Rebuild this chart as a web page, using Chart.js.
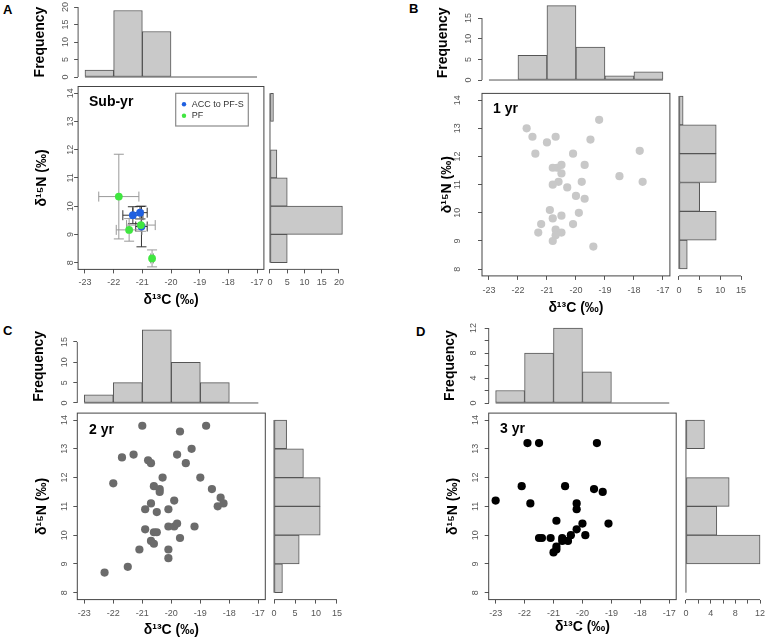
<!DOCTYPE html>
<html>
<head>
<meta charset="utf-8">
<script src="https://cdn.jsdelivr.net/npm/chart.js@4.4.1/dist/chart.umd.min.js"></script>
<style>
html, body { margin: 0; padding: 0; width: 768px; height: 644px; overflow: hidden; background: #fff; }
canvas { position: absolute; }
.lab { position: absolute; font: bold 13px "Liberation Sans", Arial, sans-serif; line-height: 1; color: #000; }
</style>
</head>
<body>
<div class="lab" style="left:3px;top:3px">A</div>
<div class="lab" style="left:409px;top:2px">B</div>
<div class="lab" style="left:3px;top:324px">C</div>
<div class="lab" style="left:416px;top:325px">D</div>
<script>
// bin edges and ticks
const cEdges = [-23, -22, -21, -20, -19, -18, -17];
const nEdges = [8, 9, 10, 11, 12, 13, 14];
const cTicks = [-23, -22, -21, -20, -19, -18, -17];
const nTicks = [8, 9, 10, 11, 12, 13, 14];
const ticks20 = [0, 5, 10, 15, 20];
const ticks15 = [0, 5, 10, 15];
const ticks12 = [0, 2, 4, 6, 8, 10, 12];
const labels12 = [0, 4, 8, 12];

// histogram counts (d13C bins -23..-17, d15N bins 8..14)
const subYrC = [2, 19, 13, 0, 0, 0];
const subYrN = [5, 21, 5, 2, 0, 1];
const yr1C = [0, 6, 18, 8, 1, 2];
const yr1N = [2, 9, 5, 9, 9, 1];
const yr2C = [2, 5, 18, 10, 5, 0];
const yr2N = [2, 6, 11, 11, 7, 3];
const yr3C = [2, 8, 12, 5, 0, 0];
const yr3N = [0, 12, 5, 7, 0, 3];

// sub-yr means: [d13C, d15N, sd13C, sd15N]
const accPts = [[-21.33, 9.68, 0.35, 0.3], [-21.08, 9.77, 0.25, 0.22], [-21.03, 9.28, 0.2, 0.72]];
const pfPts = [[-21.82, 10.34, 0.7, 1.5], [-21.05, 9.33, 0.5, 0.22], [-21.46, 9.16, 0.45, 0.4], [-20.66, 8.15, 0.05, 0.3]];

// individuals [d13C, d15N]
const yr1Pts = [[-21.7, 13.0], [-21.5, 12.7], [-20.7, 12.7], [-21.0, 12.5], [-21.4, 12.1], [-19.2, 13.3],
  [-19.5, 12.6], [-20.1, 12.1], [-17.8, 12.2], [-18.5, 11.3], [-17.7, 11.1], [-20.8, 11.6], [-20.65, 11.6],
  [-20.5, 11.7], [-20.5, 11.4], [-19.7, 11.7], [-20.6, 11.1], [-20.8, 11.0], [-20.3, 10.9], [-19.8, 11.1],
  [-20.0, 10.6], [-19.7, 10.5], [-20.9, 10.1], [-19.9, 10.0], [-20.5, 9.9], [-20.8, 9.8], [-21.2, 9.6],
  [-20.1, 9.6], [-21.3, 9.3], [-20.7, 9.4], [-20.7, 9.2], [-20.5, 9.3], [-20.8, 9.0], [-19.4, 8.8]];
const yr2Pts = [[-21.0, 13.8], [-18.8, 13.8], [-19.7, 13.6], [-19.3, 13.0], [-21.3, 12.8], [-19.8, 12.8],
  [-21.7, 12.7], [-20.8, 12.6], [-20.7, 12.5], [-19.5, 12.5], [-20.3, 12.0], [-19.0, 12.0], [-22.0, 11.8],
  [-20.6, 11.7], [-20.4, 11.6], [-20.4, 11.5], [-18.6, 11.6], [-18.3, 11.3], [-18.4, 11.0], [-18.2, 11.1],
  [-20.7, 11.1], [-19.9, 11.2], [-20.9, 10.9], [-20.1, 10.9], [-20.5, 10.8], [-20.9, 10.2], [-20.1, 10.3],
  [-19.9, 10.3], [-19.8, 10.4], [-19.2, 10.3], [-20.6, 10.1], [-20.5, 10.1], [-20.7, 9.8], [-20.6, 9.7],
  [-19.7, 9.9], [-21.1, 9.5], [-20.1, 9.5], [-20.1, 9.2], [-21.5, 8.9], [-22.3, 8.7]];
const yr3Pts = [[-23.0, 11.2], [-21.9, 13.2], [-21.5, 13.2], [-19.5, 13.2], [-22.1, 11.7], [-20.6, 11.7],
  [-21.8, 11.1], [-20.2, 11.1], [-20.2, 10.9], [-19.6, 11.6], [-19.3, 11.5], [-20.9, 10.5], [-20.0, 10.4],
  [-19.1, 10.4], [-21.5, 9.9], [-21.4, 9.9], [-21.1, 9.9], [-20.7, 9.9], [-20.7, 9.8], [-20.5, 9.8],
  [-20.4, 10.0], [-20.2, 10.2], [-19.9, 10.0], [-20.9, 9.6], [-20.9, 9.5], [-21.0, 9.4]];

const cLim = [-23, -17];
const nLim = [8, 14];

const FONT = '"Liberation Sans", Arial, Helvetica, sans-serif';
const AXIS = '#555';
const TICK = '#555';
const BOX = '#444';
const BAR_FILL = '#c9c9c9';
const BAR_LINE = '#555';
const TL = 4; // tick mark length

Chart.defaults.font.family = FONT;

// R style 4% axis extension
function ext(lim) {
    const d = (lim[1] - lim[0]) * 0.04;
    return [lim[0] - d, lim[1] + d];
}

const mctx = document.createElement("canvas").getContext("2d");
function halfWidest(labels) {
    mctx.font = "9px " + FONT;
    return Math.max(...labels.map(l => mctx.measureText(String(l)).width)) / 2;
}

function addCanvas(l, t, r, b) {
    const x = Math.floor(l), y = Math.floor(t);
    const w = Math.ceil(r - x), h = Math.ceil(b - y);
    const c = document.createElement("canvas");
    c.width = w; c.height = h;
    c.style.left = x + "px"; c.style.top = y + "px";
    c.style.width = w + "px"; c.style.height = h + "px";
    document.body.appendChild(c);
    return { c, x, y, w, h };
}

// axis with fixed size and explicit ticks
function axis(o) {
    const vertical = o.pos === "left";
    return {
        type: "linear", position: o.pos, min: o.min, max: o.max, offset: false, bounds: "data",
        border: { display: false },
        grid: { display: true, drawOnChartArea: false, drawTicks: true, tickLength: TL, color: AXIS, offset: false },
        ticks: {
            font: { size: 9 }, color: TICK, padding: o.pad, autoSkip: false,
            minRotation: vertical ? 90 : 0, maxRotation: vertical ? 90 : 0,
            crossAlign: vertical ? "center" : "near",
            callback: v => o.labels.includes(v) ? String(v) : ""
        },
        title: o.title ? {
            display: true, text: o.title, color: "#000",
            font: { size: 14, weight: "bold" }, padding: o.tpad
        } : { display: false },
        afterBuildTicks: s => { s.ticks = o.ticks.map(v => ({ value: v })); },
        afterFit: s => { if (vertical) s.width = o.size; else s.height = o.size; }
    };
}

// box round the scatter, or R style axis line from first to last tick
const framePlugin = {
    id: "frame",
    afterDraw(chart, args, opts) {
        const { ctx, chartArea: a } = chart;
        ctx.save();
        ctx.lineWidth = 1;
        if (opts.box) {
            ctx.strokeStyle = BOX;
            ctx.strokeRect(a.left, a.top, a.width, a.height);
        }
        if (opts.axis) {
            const s = chart.scales[opts.axis];
            const p0 = s.getPixelForValue(s.ticks[0].value);
            const p1 = s.getPixelForValue(s.ticks[s.ticks.length - 1].value);
            ctx.strokeStyle = AXIS;
            ctx.beginPath();
            if (opts.axis === "y") { ctx.moveTo(a.left, p0); ctx.lineTo(a.left, p1); }
            else { ctx.moveTo(p0, a.bottom); ctx.lineTo(p1, a.bottom); }
            ctx.stroke();
        }
        ctx.restore();
    }
};

// error bars with caps
const errPlugin = {
    id: "errbars",
    beforeDatasetsDraw(chart) {
        const { ctx, scales: { x, y } } = chart;
        const cap = 5;
        chart.data.datasets.forEach(ds => {
            if (!ds.errors) return;
            ctx.save();
            ctx.strokeStyle = ds.errorColor;
            ctx.lineWidth = 1;
            ds.errors.forEach(([cx, cy, ex, ey]) => {
                const px = x.getPixelForValue(cx), py = y.getPixelForValue(cy);
                const xl = x.getPixelForValue(cx - ex), xr = x.getPixelForValue(cx + ex);
                const yt = y.getPixelForValue(cy + ey), yb = y.getPixelForValue(cy - ey);
                ctx.beginPath();
                ctx.moveTo(xl, py); ctx.lineTo(xr, py);
                ctx.moveTo(xl, py - cap); ctx.lineTo(xl, py + cap);
                ctx.moveTo(xr, py - cap); ctx.lineTo(xr, py + cap);
                ctx.moveTo(px, yt); ctx.lineTo(px, yb);
                ctx.moveTo(px - cap, yt); ctx.lineTo(px + cap, yt);
                ctx.moveTo(px - cap, yb); ctx.lineTo(px + cap, yb);
                ctx.stroke();
            });
            ctx.restore();
        });
    }
};

// age class label and legend box inside the plot
const notePlugin = {
    id: "note",
    afterDatasetsDraw(chart, args, o) {
        const { ctx, chartArea: a } = chart;
        ctx.save();
        ctx.font = "bold 14px " + FONT;
        ctx.fillStyle = "#000";
        ctx.textAlign = "left";
        ctx.textBaseline = "middle";
        ctx.fillText(o.text, a.left + o.at[0], a.top + o.at[1]);
        if (o.legend) {
            const [lx, ly, lw, lh] = o.legend;
            const x0 = a.left + lx, y0 = a.top + ly;
            ctx.strokeStyle = "#8a8a8a";
            ctx.lineWidth = 1.2;
            ctx.strokeRect(x0, y0, lw, lh);
            ctx.font = "9px " + FONT;
            chart.data.datasets.forEach((ds, i) => {
                const yy = y0 + 11 + i * 11.4;
                ctx.fillStyle = ds.backgroundColor;
                ctx.beginPath();
                ctx.arc(x0 + 8.3, yy, 2.2, 0, Math.PI * 2);
                ctx.fill();
                ctx.fillStyle = "#333";
                ctx.fillText(ds.label, x0 + 16, yy);
            });
        }
        ctx.restore();
    }
};

function pointSet(label, pts, color, r) {
    return {
        label: label,
        data: pts.map(p => ({ x: p[0], y: p[1] })),
        backgroundColor: color, pointBackgroundColor: color,
        borderWidth: 0, pointBorderWidth: 0, pointRadius: r
    };
}

const subYrSets = [
    Object.assign(pointSet("ACC to PF-S", accPts, "#1f5fe0", 3.9), { errors: accPts, errorColor: "#333", order: 2 }),
    Object.assign(pointSet("PF", pfPts, "#40e640", 3.9), { errors: pfPts, errorColor: "#999", order: 1 })
];

const panels = [
    { note: "Sub-yr", sets: subYrSets, cHist: subYrC, nHist: subYrN,
      freqLim: 20, freqTicks: ticks20, freqLabels: ticks20,
      countLim: 21, countTicks: ticks20, countLabels: ticks20,
      s: { L: 78.1, T: 86.5, W: 185.8, H: 182.9 }, yTitleX: 42.5, yTickDist: 7.3, xTickDist: 13.6, xTitleY: 300,
      top: { T: 4.2, H: 75.6 }, freqTitleX: 40, freqTickDist: 12.6,
      right: { L: 267.1, W: 78.2 }, rTickDist: 13.1,
      noteAt: [10.9, 15.2], legend: [97.6, 6.8, 72.6, 32.7] },
    { note: "1 yr", sets: [pointSet("1 yr", yr1Pts, "#c8c8c8", 4.1)], cHist: yr1C, nHist: yr1N,
      freqLim: 18, freqTicks: ticks15, freqLabels: ticks15,
      countLim: 15, countTicks: ticks15, countLabels: ticks15,
      s: { L: 482, T: 89.1, W: 187.9, H: 186.8 }, yTitleX: 447, clipLeft: 441, yTickDist: 24, xTickDist: 15.1, xTitleY: 308,
      top: { T: 2.7, H: 80.3 }, freqTitleX: 443, freqTickDist: 13.5,
      right: { L: 676.5, W: 67 }, rTickDist: 14.8,
      noteAt: [11, 15.9] },
    { note: "2 yr", sets: [pointSet("2 yr", yr2Pts, "#6b6b6b", 4.1)], cHist: yr2C, nHist: yr2N,
      freqLim: 18, freqTicks: ticks15, freqLabels: ticks15,
      countLim: 15, countTicks: ticks15, countLabels: ticks15,
      s: { L: 77.3, T: 413.1, W: 188, H: 186.5 }, yTitleX: 42.5, yTickDist: 12.8, xTickDist: 14.4, xTitleY: 630,
      top: { T: 326.8, H: 79.1 }, freqTitleX: 39, freqTickDist: 12.3,
      right: { L: 271.5, W: 68 }, rTickDist: 14.4,
      noteAt: [11.7, 16.9] },
    { note: "3 yr", sets: [pointSet("3 yr", yr3Pts, "#000000", 4.1)], cHist: yr3C, nHist: yr3N,
      freqLim: 12, freqTicks: ticks12, freqLabels: labels12,
      countLim: 12, countTicks: ticks12, countLabels: labels12,
      s: { L: 488.7, T: 413.1, W: 187.5, H: 186.5 }, yTitleX: 453, yTickDist: 13.2, xTickDist: 14.4, xTitleY: 627.5,
      top: { T: 325, H: 81 }, freqTitleX: 450.4, freqTickDist: 14.7,
      right: { L: 683, W: 80 }, rTickDist: 14.4,
      noteAt: [11.3, 16.2] }
];

const base = {
    responsive: false, animation: false, devicePixelRatio: 1, events: []
};
const noLegend = { legend: { display: false }, tooltip: { enabled: false } };
const barStyle = {
    backgroundColor: BAR_FILL, borderColor: BAR_LINE, borderWidth: 1,
    borderSkipped: false, barPercentage: 1, categoryPercentage: 1
};

function scatterChart(p) {
    const g = p.s;
    const cv = addCanvas(p.clipLeft !== undefined ? p.clipLeft : p.yTitleX - 8.4, g.T - 16, g.L + g.W + 12, p.xTitleY + 8.4);
    const xr = ext(cLim), yr = ext(nLim);
    new Chart(cv.c, {
        type: "scatter",
        data: { datasets: p.sets },
        options: Object.assign({}, base, {
            layout: { padding: { left: 0, top: g.T - cv.y, right: cv.x + cv.w - (g.L + g.W), bottom: 0 } },
            scales: {
                x: axis({ pos: "bottom", min: xr[0], max: xr[1], ticks: cTicks, labels: cTicks,
                    size: cv.y + cv.h - (g.T + g.H), pad: p.xTickDist - TL - 5.4,
                    title: "δ¹³C (‰)", tpad: { top: 0, bottom: cv.y + cv.h - 8.4 - p.xTitleY } }),
                y: axis({ pos: "left", min: yr[0], max: yr[1], ticks: nTicks, labels: nTicks,
                    size: g.L - cv.x, pad: p.yTickDist - TL - halfWidest(nTicks),
                    title: "δ¹⁵N (‰)", tpad: { top: p.yTitleX - cv.x - 8.4, bottom: 0 } })
            },
            plugins: Object.assign({}, noLegend, {
                frame: { box: true },
                note: { text: p.note, at: p.noteAt, legend: p.legend }
            })
        }),
        plugins: [framePlugin, errPlugin, notePlugin]
    });
}

function topHist(p) {
    const g = p.s, t = p.top;
    const cv = addCanvas(p.freqTitleX - 8.4, t.T - 16, g.L + g.W + 12, t.T + t.H + 14);
    const xr = ext(cLim), yr = ext([0, p.freqLim]);
    const last = cEdges.length - 1;
    new Chart(cv.c, {
        type: "bar",
        data: {
            datasets: [
                Object.assign({ type: "bar", data: p.cHist.map((n, i) => ({ x: (cEdges[i] + cEdges[i + 1]) / 2, y: n })) }, barStyle),
                { type: "line", data: [{ x: cEdges[0], y: 0 }, { x: cEdges[last], y: 0 }],
                  borderColor: BAR_LINE, borderWidth: 1, pointRadius: 0 }
            ]
        },
        options: Object.assign({}, base, {
            layout: { padding: { left: 0, top: t.T - cv.y, right: cv.x + cv.w - (g.L + g.W), bottom: cv.y + cv.h - (t.T + t.H) } },
            scales: {
                x: { type: "linear", display: false, min: xr[0], max: xr[1], offset: false, bounds: "data",
                     grid: { offset: false },
                     afterBuildTicks: s => { s.ticks = cTicks.map(v => ({ value: v })); } },
                y: axis({ pos: "left", min: yr[0], max: yr[1], ticks: p.freqTicks, labels: p.freqLabels,
                    size: g.L - cv.x, pad: p.freqTickDist - TL - halfWidest(p.freqLabels),
                    title: "Frequency", tpad: { top: p.freqTitleX - cv.x - 8.4, bottom: 0 } })
            },
            plugins: Object.assign({}, noLegend, { frame: { axis: "y" } })
        }),
        plugins: [framePlugin]
    });
}

function rightHist(p) {
    const g = p.s, r = p.right;
    const cv = addCanvas(r.L - 14, g.T - 16, r.L + r.W + 12, g.T + g.H + 28);
    const xr = ext([0, p.countLim]), yr = ext(nLim);
    const last = nEdges.length - 1;
    new Chart(cv.c, {
        type: "bar",
        data: {
            datasets: [
                Object.assign({ type: "bar", data: p.nHist.map((n, i) => ({ x: n, y: (nEdges[i] + nEdges[i + 1]) / 2 })) }, barStyle),
                { type: "line", data: [{ x: 0, y: nEdges[0] }, { x: 0, y: nEdges[last] }],
                  borderColor: BAR_LINE, borderWidth: 1, pointRadius: 0 }
            ]
        },
        options: Object.assign({}, base, {
            indexAxis: "y",
            layout: { padding: { left: r.L - cv.x, top: g.T - cv.y, right: cv.x + cv.w - (r.L + r.W), bottom: 0 } },
            scales: {
                x: axis({ pos: "bottom", min: xr[0], max: xr[1], ticks: p.countTicks, labels: p.countLabels,
                    size: cv.y + cv.h - (g.T + g.H), pad: p.rTickDist - TL - 5.4 }),
                y: { type: "linear", display: false, min: yr[0], max: yr[1], offset: false, bounds: "data",
                     grid: { offset: false },
                     afterBuildTicks: s => { s.ticks = nTicks.map(v => ({ value: v })); } }
            },
            plugins: Object.assign({}, noLegend, { frame: { axis: "x" } })
        }),
        plugins: [framePlugin]
    });
}

panels.forEach(p => {
    topHist(p);
    rightHist(p);
    scatterChart(p);
});
</script>
</body>
</html>
